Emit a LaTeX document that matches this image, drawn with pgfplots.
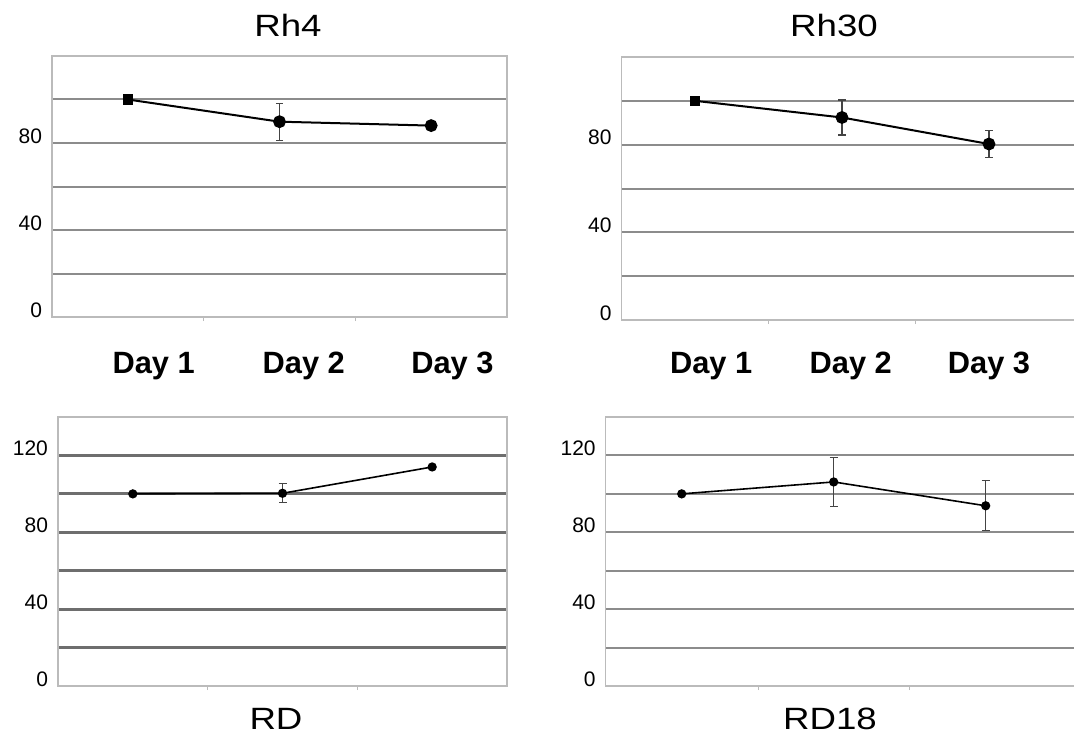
\documentclass[border=0pt]{standalone}
\usepackage{pgfplots}
\pgfplotsset{compat=1.18}
\usepackage{fontspec}
\setmainfont{Liberation Sans}

\definecolor{gridgray}{HTML}{8C8C8C}
\definecolor{griddark}{HTML}{6E6E6E}
\definecolor{framegray}{HTML}{BBBBBB}
\definecolor{errgray}{HTML}{444444}

\pgfplotsset{
  panel/.style={
    scale only axis,
    anchor=south west,
    xmin=0.5,
    axis line style={framegray, line width=0.6pt},
    ymajorgrids,
    grid style={gridgray, line width=1pt},
    major tick length=0pt,
    tick pos=left,
    xtick=\empty,
    extra x ticks={1.5,2.5},
    extra x tick labels={},
    extra x tick style={grid=none, tick align=outside, major tick length=2pt, tick style={framegray}},
    extra y ticks={0},
    extra y tick style={grid=none},
    yticklabel style={font=\fontsize{10.5}{12}\selectfont, yshift=3.5pt, xshift=-1.5pt},
    /pgf/number format/assume math mode=true,
    clip=false,
  },
  days/.style={
    xticklabels={Day 1,Day 2,Day 3},
    xticklabel style={font=\fontsize{15.4}{18}\selectfont\bfseries, anchor=base, yshift=#1},
  },
  series/.style={black, line width=1pt, mark=*, mark size=2.7pt,
    mark options={fill=black, draw=black},
    error bars/y dir=both, error bars/y explicit,
    error bars/error bar style={errgray, line width=0.6pt},
    error bars/error mark options={rotate=90, errgray, mark size=1.8pt, line width=0.6pt}},
  seriessmall/.style={black, line width=0.8pt, mark=*, mark size=1.9pt,
    mark options={fill=black, draw=black},
    error bars/y dir=both, error bars/y explicit,
    error bars/error bar style={errgray, line width=0.6pt},
    error bars/error mark options={rotate=90, errgray, mark size=2pt, line width=0.6pt}},
}
\tikzset{ttl/.style={font=\fontsize{15.4}{18}\selectfont, xscale=1.19, anchor=base, inner sep=0pt}}

\begin{document}
\begin{tikzpicture}
\useasboundingbox (0,0) rectangle (537pt,367.5pt);

% Rh4
\begin{axis}[panel, at={(26pt,209pt)}, width=227.5pt, height=130.5pt,
  xmax=3.5, ymin=0, ymax=120,
  ytick={20,40,60,80,100}, yticklabels={,40,,80,},
  xtick={1.17,2.16,3.14}, days=-28pt]
\addplot[series, mark indices={2,3}] coordinates {
  (1,100) +- (0,0)
  (2,89.8) +- (0,8.5)
  (3,88) +- (0,0)
};
\addplot[only marks, mark=square*, mark size=2.4pt, black] coordinates {(1,100)};
\end{axis}

% Rh30
\begin{axis}[panel, at={(310.75pt,207.5pt)}, width=229.3pt, height=131.5pt,
  xmax=3.62, ymin=0, ymax=120,
  ytick={20,40,60,80,100}, yticklabels={,40,,80,},
  xtick={1.11,2.06,3.0}, days=-26.5pt]
\addplot[series, mark indices={2,3}] coordinates {
  (1,100) +- (0,0)
  (2,92.4) +- (0,8)
  (3,80.3) +- (0,6)
};
\addplot[only marks, mark=square*, mark size=2.4pt, black] coordinates {(1,100)};
\end{axis}

% RD
\begin{axis}[panel, at={(29pt,24.5pt)}, width=224.5pt, height=134.5pt,
  xmax=3.5, ymin=0, ymax=140,
  grid style={griddark, line width=1.4pt},
  ytick={20,40,60,80,100,120}, yticklabels={,40,,80,,120}]
\addplot[seriessmall] coordinates {
  (1,100) +- (0,0)
  (2,100.3) +- (0,5)
  (3,114) +- (0,0)
};
\end{axis}

% RD18
\begin{axis}[panel, at={(302.85pt,24.5pt)}, width=237.1pt, height=134.5pt,
  xmax=3.62, ymin=0, ymax=140,
  ytick={20,40,60,80,100,120}, yticklabels={,40,,80,,120}]
\addplot[seriessmall] coordinates {
  (1,100) +- (0,0)
  (2,106.2) +- (0,12.6)
  (3,93.8) +- (0,13)
};
\end{axis}

\node[ttl] at (144pt,349pt) {Rh4};
\node[ttl] at (417pt,349pt) {Rh30};
\node[ttl] at (138pt,3pt) {RD};
\node[ttl] at (415pt,3pt) {RD18};
\end{tikzpicture}
\end{document}
